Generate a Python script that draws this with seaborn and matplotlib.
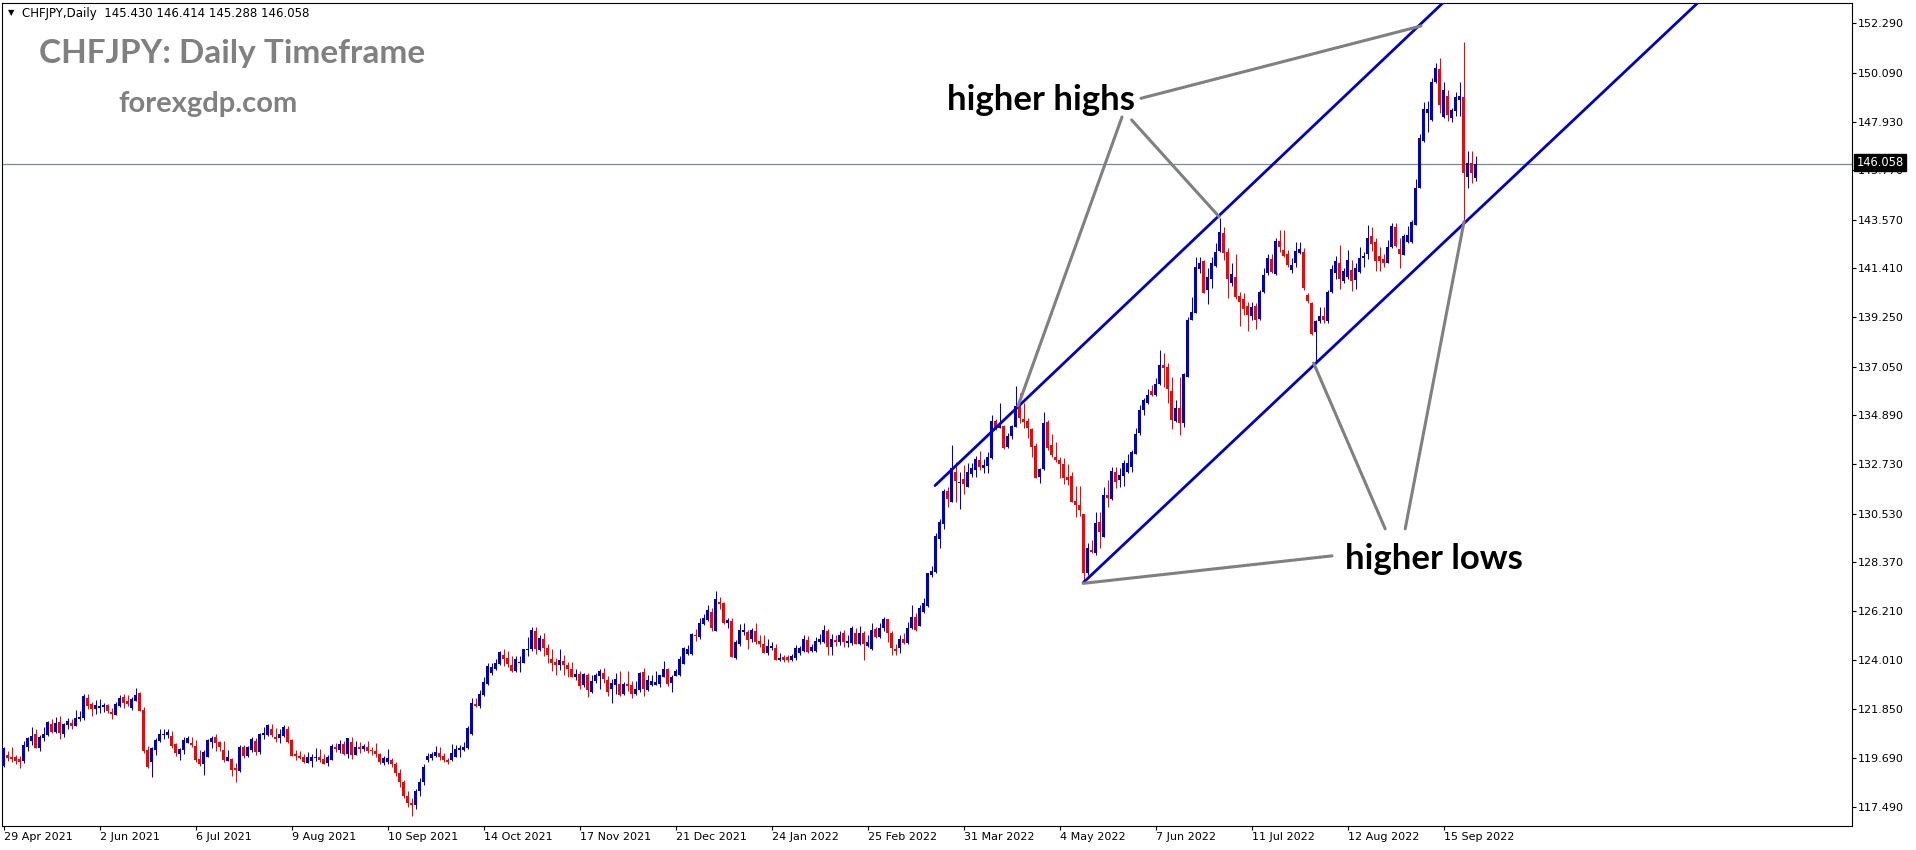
import matplotlib
matplotlib.use("Agg")
import matplotlib.pyplot as plt
import matplotlib.transforms as mtransforms
import seaborn as sns
import numpy as np
import pandas as pd

# ---------------- data (daily CHFJPY candles) ----------------
opens = [
119.33,119.81,119.74,119.73,119.64,119.56,120.18,120.45,120.75,120.14,120.58,120.70,121.19,120.82,121.28,120.76,121.16,121.22,121.10,121.43,
121.46,122.34,122.08,121.86,121.90,121.96,122.03,121.74,121.60,121.99,122.39,122.21,121.89,122.23,122.58,121.81,120.04,119.52,120.04,120.44,
120.70,120.69,120.66,120.30,119.87,120.04,120.35,120.36,120.21,119.64,119.43,119.74,120.39,120.61,120.39,120.04,119.56,119.64,119.24,119.10,
120.17,119.78,120.04,120.44,119.95,120.70,120.70,120.97,120.61,120.57,120.66,120.97,120.48,119.86,119.77,119.73,119.47,119.56,119.70,119.73,
119.64,119.47,119.61,120.18,120.04,120.30,119.86,120.39,119.81,120.17,120.08,120.17,120.05,119.97,119.85,119.45,119.50,119.60,119.40,119.00,
118.60,118.00,117.70,117.60,118.20,118.60,119.59,119.66,119.77,119.90,119.77,119.60,119.59,119.74,120.03,120.03,120.11,120.74,122.07,121.99,
122.47,122.95,123.47,123.61,123.85,124.25,124.10,123.81,123.55,123.91,123.91,124.47,124.52,125.32,124.47,124.95,124.58,124.07,123.94,123.79,
123.98,123.81,123.63,123.29,123.41,122.90,123.35,122.62,123.11,123.32,123.44,123.14,122.74,122.92,122.96,122.52,122.96,122.90,122.52,122.70,
123.50,122.70,122.92,122.92,122.96,123.29,123.63,123.02,123.32,123.35,123.87,124.29,124.29,125.14,125.06,125.61,125.82,126.16,125.33,126.60,
126.56,125.69,125.76,124.13,124.72,125.26,125.28,124.95,125.31,124.87,124.73,124.32,124.58,124.58,124.05,124.17,124.14,124.05,124.10,124.32,
124.44,124.91,124.44,124.44,124.84,124.84,125.31,124.61,124.91,124.82,125.21,124.79,124.79,125.24,124.76,125.24,124.66,124.50,125.40,125.06,
125.47,125.83,125.24,124.50,124.54,124.95,124.79,125.47,125.95,125.53,126.17,126.43,127.80,127.94,129.39,130.06,131.53,131.02,132.38,131.87,
132.04,131.72,132.28,132.46,132.90,132.55,132.64,133.01,134.63,134.31,134.41,133.49,133.97,134.38,135.45,134.72,134.63,134.26,133.52,132.16,
132.49,134.60,133.57,133.05,132.90,132.72,132.13,132.19,131.10,130.90,130.53,127.87,128.91,128.76,130.15,129.50,131.35,131.16,132.36,132.02,
132.20,132.39,132.61,133.17,134.09,135.13,135.45,135.97,135.79,136.27,137.12,137.02,135.98,134.65,135.20,134.53,136.60,139.14,139.44,141.37,
141.75,140.45,140.96,141.51,142.19,142.96,142.15,140.74,141.04,140.18,140.03,139.76,139.29,139.76,139.17,140.36,141.19,141.84,141.14,142.64,
142.22,142.04,141.36,141.66,142.10,142.15,140.22,139.88,138.60,139.07,139.29,139.08,140.37,141.19,141.66,140.86,141.04,141.36,140.89,141.26,
141.85,142.04,142.84,142.59,141.96,141.81,141.66,142.34,143.26,142.25,142.00,142.59,142.59,143.33,144.96,147.08,148.32,147.99,149.70,150.24,
148.11,149.06,148.07,148.41,148.88,149.00,145.48,146.07,145.43]
highs = [
120.18,119.99,120.17,119.81,119.77,120.44,120.63,121.04,120.97,120.70,121.04,121.32,121.40,121.49,121.55,121.25,121.44,121.40,121.81,121.77,
122.52,122.52,122.17,122.26,122.29,122.12,122.06,121.89,122.17,122.46,122.52,122.46,122.40,122.79,122.61,121.95,120.21,120.17,120.57,120.97,
120.97,120.97,120.88,120.33,120.14,120.63,120.66,120.61,120.48,120.04,120.04,120.54,120.64,120.76,120.45,120.44,120.04,119.67,119.47,120.26,
120.26,120.21,120.60,120.57,120.79,121.06,121.19,121.19,121.01,120.97,121.15,121.10,120.52,120.04,119.99,119.86,119.95,119.86,120.12,120.08,
119.86,119.81,120.30,120.35,120.48,120.44,120.57,120.61,120.44,120.41,120.30,120.44,120.15,120.33,119.90,119.75,120.08,119.70,119.50,119.20,
118.70,118.20,117.90,118.30,118.80,119.40,119.88,119.96,120.21,120.15,119.88,119.70,120.28,120.25,120.25,120.37,121.10,122.36,122.34,122.70,
123.26,123.91,123.88,124.06,124.44,124.52,124.44,124.21,124.21,124.21,124.53,125.03,125.51,125.49,125.14,125.23,124.74,124.53,124.12,124.52,
124.24,123.94,123.94,123.61,123.54,123.45,123.45,123.36,123.45,123.61,123.69,123.32,123.17,123.47,123.54,123.05,123.54,123.11,123.08,123.48,
123.66,123.36,123.36,123.55,123.36,123.98,123.66,123.36,123.63,124.21,124.62,124.69,125.24,125.40,125.88,126.09,126.47,126.34,127.09,126.83,
126.60,125.89,125.89,124.92,125.62,125.65,125.38,125.47,125.65,125.13,125.15,124.98,124.84,124.73,124.32,124.24,124.24,124.28,124.69,124.64,
125.15,125.10,124.76,125.06,125.18,125.58,125.40,125.18,125.13,125.32,125.35,125.13,125.55,125.47,125.55,125.32,125.13,125.65,125.50,125.69,
125.95,125.87,125.32,124.76,125.13,125.21,125.72,126.47,126.12,126.47,126.80,127.91,128.21,129.65,130.28,131.60,131.72,133.57,132.83,132.38,
132.68,132.78,132.78,133.08,133.30,132.93,133.26,134.90,134.71,135.45,134.46,134.09,134.46,136.19,135.86,135.45,134.75,134.31,133.64,132.53,
135.05,134.68,134.04,133.72,133.05,132.98,132.72,132.38,131.76,131.76,130.53,129.20,129.35,130.61,130.61,131.72,132.01,132.58,132.58,132.54,
132.91,133.17,133.35,134.31,135.35,135.67,136.04,136.24,136.53,137.79,137.64,137.20,136.61,135.57,136.61,136.75,139.26,140.15,141.93,141.93,
141.78,141.41,141.93,142.52,143.63,143.26,142.30,141.63,142.04,140.37,140.30,139.93,139.93,139.88,140.45,141.41,142.04,142.04,142.74,143.11,
143.11,142.22,141.85,142.59,142.59,142.30,140.33,139.93,139.11,139.70,139.70,140.45,141.56,141.96,142.44,141.41,142.22,141.78,141.63,142.37,
142.15,143.33,143.26,142.74,142.34,142.04,142.69,143.44,143.41,142.74,142.93,143.29,143.55,145.40,147.37,148.81,148.85,149.84,150.51,150.73,
149.70,149.33,148.51,149.25,149.70,151.47,146.63,146.63,146.414]
lows = [
119.30,119.56,119.52,119.43,119.25,119.47,120.01,120.27,120.11,120.01,120.45,120.66,120.78,120.78,120.54,120.60,120.95,120.98,121.10,121.34,
121.37,121.87,121.55,121.65,121.69,121.74,121.66,121.43,121.60,121.96,121.90,122.00,121.80,122.23,121.77,119.92,119.24,118.85,119.81,120.38,
120.52,120.58,120.14,119.77,119.59,119.86,120.33,120.18,119.52,119.33,118.93,119.74,120.14,120.01,119.99,119.52,119.56,118.88,118.62,119.07,
119.70,119.71,119.95,119.83,119.87,120.54,120.67,120.60,120.41,120.36,120.61,120.36,119.78,119.59,119.64,119.46,119.46,119.30,119.56,119.50,
119.43,119.34,119.61,119.95,119.92,119.81,119.68,119.64,119.81,119.90,119.99,119.90,119.80,119.74,119.40,119.35,119.40,119.30,118.90,118.40,
117.90,117.50,117.10,117.40,118.00,118.50,119.51,119.59,119.74,119.59,119.51,119.40,119.55,119.74,119.74,120.00,120.06,120.70,121.93,121.91,
122.43,122.90,123.36,123.58,123.81,123.76,123.70,123.51,123.51,123.48,123.91,124.21,124.44,124.29,124.44,124.21,123.91,123.55,123.36,123.58,
123.36,123.29,123.29,123.14,122.76,122.81,122.40,122.55,122.99,122.76,122.99,122.44,122.10,122.52,122.44,122.46,122.67,122.36,122.46,122.62,
122.43,122.65,122.87,122.92,122.81,123.29,122.87,122.62,123.32,123.32,123.85,124.25,124.25,124.87,124.98,125.58,125.77,125.32,125.33,126.29,
125.61,125.43,124.18,124.09,124.65,125.13,124.50,124.84,124.76,124.61,124.32,124.24,124.47,124.05,123.99,123.95,123.95,123.98,124.05,124.24,
124.39,124.32,124.39,124.39,124.76,124.79,124.24,124.24,124.64,124.69,124.61,124.61,124.69,124.73,124.69,124.05,124.61,124.47,125.01,125.01,
125.31,124.84,124.24,124.24,124.35,124.73,124.73,125.41,125.32,125.53,126.10,126.39,127.72,127.90,129.02,129.85,130.83,131.02,131.05,130.73,
131.39,131.69,132.13,132.16,132.46,132.34,132.34,132.96,134.23,134.31,133.39,133.46,133.82,134.35,134.56,134.31,133.89,133.05,132.09,131.90,
132.46,133.35,133.05,132.83,132.09,131.84,131.79,131.02,130.39,130.42,127.50,127.80,128.76,128.68,129.02,129.47,130.83,131.13,131.65,131.72,
131.75,132.31,132.39,133.17,134.02,134.90,135.39,135.75,135.75,136.24,136.16,135.42,134.28,134.61,134.02,134.36,136.60,139.11,139.41,141.19,
140.30,139.85,140.52,141.48,142.15,141.78,140.08,140.62,140.03,138.85,139.34,138.64,139.14,138.71,139.14,140.33,141.11,141.19,141.11,142.15,
141.93,141.48,141.19,141.48,142.04,140.45,139.88,138.45,137.19,138.99,138.99,138.97,140.30,140.96,140.48,140.77,140.96,140.42,140.48,141.19,
141.45,141.81,142.19,141.30,141.30,141.45,141.63,142.30,142.34,141.41,142.00,142.55,142.55,143.33,144.96,147.03,147.48,147.96,149.62,148.29,
148.07,147.96,147.92,148.17,148.17,143.55,144.96,145.18,145.288]
closes = [
120.11,119.70,119.64,119.56,119.52,120.26,120.58,120.66,120.14,120.61,120.75,121.28,120.84,121.22,120.81,121.19,121.32,121.10,121.44,121.50,
122.43,121.99,121.86,122.02,122.00,122.05,121.77,121.65,122.08,122.34,122.12,122.08,122.30,122.48,121.77,119.99,119.27,120.12,120.48,120.75,
120.76,120.84,120.21,119.92,120.08,120.48,120.58,120.26,119.59,119.43,119.95,120.48,120.58,120.36,120.18,119.59,119.73,119.15,119.15,120.17,
119.77,120.17,120.52,119.95,120.75,120.79,121.13,120.70,120.52,120.75,121.06,120.39,119.78,119.78,119.68,119.52,119.73,119.73,119.73,119.59,
119.43,119.73,120.21,120.08,120.30,119.86,120.57,119.81,120.17,120.08,120.21,119.99,120.00,119.85,119.50,119.66,119.66,119.40,119.00,118.60,
118.00,117.70,117.60,118.20,118.60,119.30,119.77,119.87,119.94,119.74,119.59,119.50,119.90,120.08,120.14,120.18,121.02,122.10,121.99,122.52,
123.05,123.76,123.70,123.90,124.38,124.09,123.85,123.55,124.07,123.95,124.50,124.52,125.36,124.52,124.99,124.58,124.25,123.91,123.81,124.03,
123.81,123.64,123.29,123.39,122.87,123.39,122.70,123.10,123.35,123.55,123.18,122.62,122.99,123.18,122.47,122.96,122.87,122.52,122.74,123.44,
122.74,123.14,123.10,123.04,123.35,123.63,122.95,123.27,123.54,124.07,124.56,124.52,125.20,125.10,125.67,125.88,126.26,125.43,126.74,126.53,
125.66,125.80,124.18,124.83,125.36,125.35,124.91,125.35,124.82,124.76,124.32,124.64,124.64,124.05,124.10,124.05,124.02,124.20,124.54,124.54,
124.95,124.39,124.61,124.87,124.98,125.35,124.61,124.95,124.82,125.15,124.84,124.87,125.47,124.76,125.24,124.76,124.84,125.35,125.06,125.47,
125.83,125.24,124.58,124.41,124.98,124.79,125.47,125.92,125.35,126.35,126.54,127.87,127.99,129.54,130.16,131.54,131.19,132.53,131.98,131.94,
131.84,132.37,132.56,132.96,132.59,132.68,133.05,134.63,134.38,134.46,133.46,133.95,134.41,135.30,134.78,134.60,134.31,133.49,132.12,132.50,
134.56,133.42,133.12,132.90,132.75,132.09,132.01,131.05,130.90,130.68,127.91,128.98,128.80,130.13,129.72,131.35,131.24,132.42,131.94,132.24,
132.76,132.76,133.28,134.05,135.13,135.57,135.79,135.79,136.27,137.12,136.98,136.04,134.68,135.20,134.56,136.73,139.14,139.48,141.45,141.67,
140.33,141.01,141.66,142.15,143.01,142.10,140.92,141.14,140.15,139.93,139.59,139.34,139.70,139.14,140.36,141.11,141.87,141.26,142.64,142.37,
141.97,141.56,141.58,142.19,142.27,140.52,139.97,138.49,139.08,139.29,139.11,140.37,141.38,141.75,140.96,141.30,141.78,140.86,141.41,141.85,
141.96,142.74,142.49,141.75,141.75,141.63,142.34,143.29,142.40,142.04,142.84,142.89,143.48,145.00,147.18,148.48,148.48,149.70,150.29,148.66,
149.33,148.22,148.44,149.03,149.06,145.66,146.07,145.66,146.058]

date_labels = ["29 Apr 2021", "2 Jun 2021", "6 Jul 2021", "9 Aug 2021", "10 Sep 2021",
               "14 Oct 2021", "17 Nov 2021", "21 Dec 2021", "24 Jan 2022", "25 Feb 2022",
               "31 Mar 2022", "4 May 2022", "7 Jun 2022", "11 Jul 2022", "12 Aug 2022",
               "15 Sep 2022"]
date_label_bars = [0, 24, 48, 72, 96, 120, 144, 168, 192, 216, 240, 264, 288, 312, 336, 360]
price_ticks = [117.49, 119.69, 121.85, 124.01, 126.21, 128.37, 130.53, 132.73, 134.89,
               137.05, 139.25, 141.41, 143.57, 145.77, 147.93, 150.09, 152.29]
last_price = 146.058

# channel lines (bar index, price) and annotation leader lines
upper_channel = {"bar": [232.85, 420.0], "price": [131.77, 163.35]}
lower_channel = {"bar": [269.9, 470.0], "price": [127.46, 160.98]}
leaders = [
    ([284.35, 354.35], [148.96, 152.17]),
    ([279.6, 253.6], [148.13, 135.30]),
    ([282.0, 303.9], [148.00, 143.70]),
    ([332.1, 269.9], [128.65, 127.43]),
    ([345.4, 327.5], [129.85, 137.21]),
    ([350.4, 365.1], [129.85, 143.48]),
]

# ---------------- style ----------------
sns.set_theme(style="white")
plt.rcParams['font.family'] = ['DejaVu Sans']
plt.rcParams['axes.linewidth'] = 0.8

W, H = 1916, 850
fig = plt.figure(figsize=(W / 100, H / 100), dpi=100)
fig.patch.set_facecolor("white")
ax = fig.add_axes([2 / W, 1 - 826 / H, 1850 / W, 823 / H])
ax.set_facecolor("white")

BLUE = "#0000CC"
RED = "#FF0000"
GREY = "#808080"

df = pd.DataFrame({"open": opens, "high": highs, "low": lows, "close": closes})
df["bar"] = np.arange(len(df))
up = df["close"] >= df["open"]
colors = np.where(up, BLUE, RED)

ax.vlines(df["bar"], df["low"], df["high"], colors=colors, linewidth=0.75, zorder=3)
body_bottom = np.minimum(df["open"], df["close"])
body_h = np.maximum((df["close"] - df["open"]).abs(), 0.035)
ax.bar(df["bar"], body_h, bottom=body_bottom, width=0.76, color=colors, linewidth=0, zorder=4)

# last price line
ax.axhline(last_price, color="#7A8696", linewidth=0.9, zorder=2)

# channel lines
sns.lineplot(x=upper_channel["bar"], y=upper_channel["price"], ax=ax, color=BLUE,
             linewidth=2.0, estimator=None, sort=False, zorder=5)
sns.lineplot(x=lower_channel["bar"], y=lower_channel["price"], ax=ax, color=BLUE,
             linewidth=2.0, estimator=None, sort=False, zorder=5)
for xs, ys in leaders:
    sns.lineplot(x=xs, y=ys, ax=ax, color=GREY, linewidth=2.2, estimator=None,
                 sort=False, zorder=6)

# annotation texts
ax.text(259.4, 148.44, "higher highs", fontsize=25, fontweight="bold", family=["Lato", "DejaVu Sans"],
        color="black", ha="center", va="baseline", zorder=7)
ax.text(357.6, 128.07, "higher lows", fontsize=25, fontweight="bold", family=["Lato", "DejaVu Sans"],
        color="black", ha="center", va="baseline", zorder=7)

# axes limits / ticks
ax.set_xlim(-0.4, 462.1)
ax.set_ylim(116.66, 153.19)
ax.yaxis.tick_right()
ax.set_yticks(price_ticks)
ax.set_yticklabels([f"{v:.3f}" for v in price_ticks])
ax.set_xticks(date_label_bars)
ax.set_xticklabels(date_labels, ha="left")
ax.tick_params(axis="both", which="both", direction="out", length=3, width=0.8,
               colors="black", labelsize=8, pad=1.5)
ax.tick_params(axis="y", left=False, right=True)
ax.tick_params(axis="x", bottom=True, top=False)
for s in ax.spines.values():
    s.set_color("black")
    s.set_linewidth(0.8)
ax.set_xlabel("")
ax.set_ylabel("")
ax.grid(False)

# last price label box on the right axis (sits over the 145.770 label, as in the source)
trans = mtransforms.blended_transform_factory(ax.transAxes, ax.transData)
ax.text(1.0025, last_price + 0.05, f"{last_price:.3f}", transform=trans, fontsize=8.3, color="white",
        ha="left", va="center", zorder=10, clip_on=False,
        bbox=dict(boxstyle="square,pad=0.2", fc="black", ec="black"))

# header and watermark texts (figure pixel positions)
def fx(x):
    return x / W

def fy(y):
    return 1 - y / H

fig.text(fx(8), fy(13), "\u25BC", fontsize=6, color="black", va="center", ha="left")
fig.text(fx(22), fy(13), "CHFJPY,Daily  145.430 146.414 145.288 146.058", fontsize=8.5,
         color="black", va="center", ha="left")
fig.text(fx(39), fy(63), "CHFJPY: Daily Timeframe", fontsize=24, fontweight="bold",
         family=["Lato", "DejaVu Sans"], color=GREY, va="baseline", ha="left")
fig.text(fx(118), fy(112), "forexgdp.com", fontsize=21, fontweight="bold",
         family=["Lato", "DejaVu Sans"], color=GREY, va="baseline", ha="left")

fig.savefig("out.png", dpi=100, facecolor="white")
